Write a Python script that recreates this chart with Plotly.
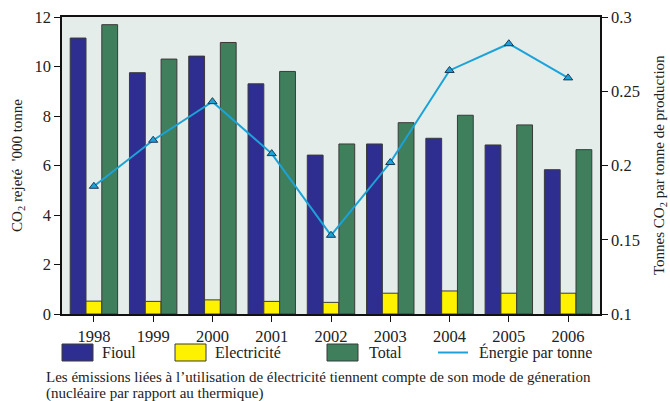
import plotly.graph_objects as go

years = ["1998", "1999", "2000", "2001", "2002", "2003", "2004", "2005", "2006"]
fioul = [11.15, 9.75, 10.42, 9.3, 6.42, 6.87, 7.1, 6.83, 5.83]
electricite = [0.52, 0.51, 0.57, 0.51, 0.47, 0.84, 0.93, 0.84, 0.84]
total = [11.69, 10.3, 10.97, 9.8, 6.87, 7.73, 8.03, 7.64, 6.64]
energie = [0.186, 0.217, 0.243, 0.208, 0.153, 0.202, 0.264, 0.282, 0.259]

FONT = "Liberation Serif, Times New Roman, serif"
C_FIOUL = "#2e2e90"
C_ELEC = "#fff200"
C_TOTAL = "#3f7f5c"
C_LINE = "#1ba3d9"
EDGE = "#3a3a3a"

fig = go.Figure()
for name, vals, col in [("Fioul", fioul, C_FIOUL), ("Electricité", electricite, C_ELEC), ("Total", total, C_TOTAL)]:
    fig.add_trace(go.Bar(x=years, y=vals, name=name, marker=dict(color=col, line=dict(color=EDGE, width=1))))

fig.add_trace(go.Scatter(
    x=years, y=energie, name="Énergie par tonne", yaxis="y2", mode="lines+markers",
    line=dict(color=C_LINE, width=2),
    marker=dict(symbol="triangle-up", size=8, color=C_LINE, line=dict(color="#1a3a5a", width=1)),
))

# plot area in pixels: x 62..600, y 17..314
L, R, T, B = 62, 600, 17, 314
W, H = R - L, B - T


def px(x):
    return (x - L) / W


def py(y):
    return (B - y) / H


shapes = []
annotations = []
leg_y0, leg_y1 = 344, 361
for x0, x1, col in [(62, 93, C_FIOUL), (175, 206, C_ELEC), (327, 358, C_TOTAL)]:
    shapes.append(dict(type="rect", xref="paper", yref="paper", x0=px(x0), x1=px(x1),
                       y0=py(leg_y1), y1=py(leg_y0), fillcolor=col, line=dict(color=EDGE, width=1)))
shapes.append(dict(type="line", xref="paper", yref="paper", x0=px(438), x1=px(468),
                   y0=py(352.5), y1=py(352.5), line=dict(color=C_LINE, width=2)))
for x, txt in [(100, "Fioul"), (213, "Electricité"), (367, "Total"), (477, "Énergie par tonne")]:
    annotations.append(dict(xref="paper", yref="paper", x=px(x), y=py(352.5), text=txt, showarrow=False,
                            xanchor="left", yanchor="middle", font=dict(family=FONT, size=16, color="#222")))
# caption, two lines
for y, txt in [(377, "Les émissions liées à l’utilisation de électricité tiennent compte de son mode de géneration"),
               (393, "(nucléaire par rapport au thermique)")]:
    annotations.append(dict(xref="paper", yref="paper", x=px(44), y=py(y), xanchor="left", yanchor="middle",
                            showarrow=False, font=dict(family=FONT, size=15, color="#222"), text=txt))
# right axis title
annotations.append(dict(
    xref="paper", yref="paper", x=px(660), y=py(165), textangle=-90, showarrow=False,
    xanchor="center", yanchor="middle", font=dict(family=FONT, size=15, color="#222"),
    text="Tonnes CO<sub>2</sub> par tonne de production",
))

# legend marker for the line
fig.add_trace(go.Scatter(
    x=[px(453)], y=[py(352.5)], xaxis="x2", yaxis="y3", mode="markers", showlegend=False, hoverinfo="skip",
    cliponaxis=False,
    marker=dict(symbol="triangle-up", size=8, color=C_LINE, line=dict(color="#1a3a5a", width=1)),
))

fig.update_layout(
    width=670, height=401,
    margin=dict(l=L, r=670 - R, t=T, b=401 - B),
    paper_bgcolor="white", plot_bgcolor="#e4ede9",
    barmode="group", bargap=0.2, bargroupgap=0,
    showlegend=False,
    font=dict(family=FONT, size=16, color="#222"),
    xaxis=dict(type="category", showline=True, linecolor="#111", linewidth=1.5, mirror=True,
               ticks="outside", ticklen=6, tickcolor="#111", showgrid=False, automargin=False,
               tickfont=dict(family=FONT, size=16.5)),
    yaxis=dict(range=[0, 12], dtick=2, showline=True, linecolor="#111", linewidth=1.5,
               ticks="outside", ticklen=6, tickcolor="#111", showgrid=False, zeroline=False,
               automargin=False, tickfont=dict(family=FONT, size=16.5),
               title=dict(text="CO<sub>2</sub> rejeté  '000 tonne", font=dict(family=FONT, size=15), standoff=8)),
    yaxis2=dict(range=[0.1, 0.3], dtick=0.05, overlaying="y", side="right", showline=True,
                linecolor="#111", linewidth=1.5, ticks="outside", ticklen=6, tickcolor="#111",
                showgrid=False, zeroline=False, automargin=False, tickfont=dict(family=FONT, size=16.5)),
    xaxis2=dict(range=[0, 1], overlaying="x", visible=False, fixedrange=True),
    yaxis3=dict(range=[0, 1], overlaying="y", visible=False, fixedrange=True),
    shapes=shapes,
    annotations=annotations,
)

fig.write_html("out.html", config={"displayModeBar": False},
               post_script="document.body.style.margin='0';")
